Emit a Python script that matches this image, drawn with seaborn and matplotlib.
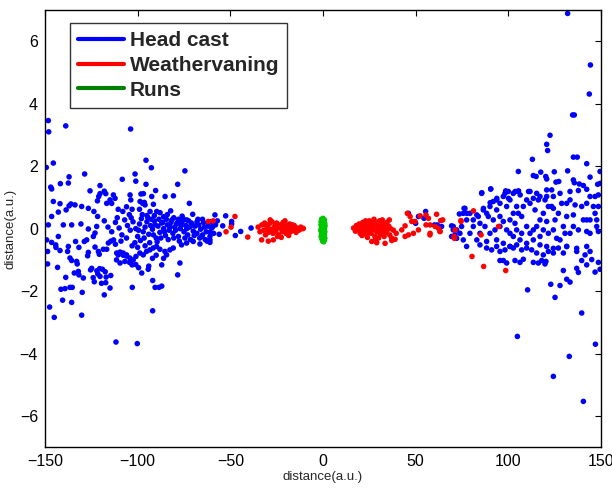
import matplotlib
matplotlib.use("Agg")
import matplotlib.pyplot as plt
from matplotlib.lines import Line2D
import pandas as pd
import seaborn as sns

# Lateral displacement of each behavioural event vs. its position
head_cast_pts = [
    # left wing, upper outliers
    (-148.2, 3.46), (-148.0, 3.10), (-138.8, 3.29), (-103.8, 3.19),
    (-145.5, 2.10), (-149.3, 1.96), (-95.5, 2.19), (-92.6, 1.95), (-74.5, 1.85),
    (-128.6, 1.75), (-137.0, 1.66), (-137.4, 1.46), (-141.7, 1.44), (-146.9, 1.33), (-146.4, 1.27),
    (-125.7, 1.21), (-120.3, 1.38), (-118.0, 1.20), (-120.3, 1.12), (-121.0, 1.03), (-121.7, 0.89), (-117.2, 1.12),
    (-108.3, 1.58), (-101.4, 1.75), (-101.0, 1.52), (-98.2, 1.11), (-96.9, 1.12), (-96.4, 0.84), (-95.5, 1.42),
    (-90.3, 1.22), (-92.4, 1.03), (-85.2, 1.03), (-80.7, 1.05), (-78.4, 1.42), (-72.1, 0.81), (-104.1, 1.08), (-103.7, 0.92),
    # left wing, upper band
    (-145.5, 0.87), (-141.9, 0.80), (-138.6, 0.60), (-137.0, 0.73), (-136.0, 0.79), (-133.8, 0.76), (-130.2, 0.71),
    (-126.6, 0.65), (-123.6, 0.55), (-121.6, 0.39), (-142.8, 0.53), (-146.4, 0.39), (-116.7, 0.81), (-114.0, 0.81),
    (-114.9, 0.92), (-112.2, 0.97), (-113.1, 1.08), (-110.5, 0.62), (-108.0, 0.55), (-106.0, 0.70), (-104.5, 0.45),
    (-103.0, 0.62), (-98.7, 0.87), (-97.3, 0.81), (-96.0, 0.76), (-91.5, 0.78), (-93.3, 0.55), (-89.7, 0.55),
    (-87.9, 0.51), (-82.2, 0.57), (-70.3, 0.46), (-58.3, 0.44), (-52.5, 0.41), (-99.0, 0.62), (-95.0, 0.42),
    (-91.0, 0.42), (-86.0, 0.38), (-84.0, 0.45), (-80.5, 0.35), (-78.0, 0.30), (-76.0, 0.40), (-73.5, 0.28),
    (-68.0, 0.22), (-65.0, 0.30), (-62.0, 0.18), (-49.3, 0.23), (-49.3, 0.15), (-54.1, 0.09), (-59.5, 0.07),
    # left wing, core around zero
    (-148.2, 0.12), (-140.1, 0.12), (-135.6, 0.12), (-130.6, 0.15), (-126.6, -0.01), (-122.1, 0.07), (-118.0, 0.25),
    (-116.0, 0.05), (-114.0, -0.10), (-112.0, 0.20), (-110.0, 0.02), (-108.5, -0.20), (-107.0, 0.28), (-105.5, 0.10),
    (-104.0, -0.05), (-102.5, 0.22), (-101.0, 0.00), (-100.0, -0.25), (-99.0, 0.15), (-98.0, 0.32), (-97.0, -0.10),
    (-96.0, 0.05), (-95.0, 0.22), (-94.0, -0.18), (-93.0, 0.10), (-92.0, -0.02), (-91.0, 0.25), (-90.0, -0.30),
    (-89.0, 0.08), (-88.0, -0.12), (-87.0, 0.18), (-86.0, 0.00), (-85.0, -0.22), (-84.0, 0.12), (-83.0, -0.05),
    (-82.0, 0.20), (-81.0, -0.15), (-80.0, 0.05), (-79.0, 0.15), (-78.0, -0.25), (-77.0, 0.00), (-76.0, 0.22),
    (-75.0, -0.10), (-74.0, 0.10), (-73.0, -0.20), (-72.0, 0.05), (-71.0, 0.18), (-70.0, -0.08), (-69.0, 0.08),
    (-68.0, -0.15), (-67.0, 0.12), (-66.0, -0.02), (-65.0, -0.20), (-64.0, 0.05), (-63.0, -0.10), (-62.0, 0.08),
    (-61.0, -0.25), (-60.0, 0.02), (-58.0, 0.12), (-56.0, -0.18), (-44.4, -0.09), (-47.3, -0.22), (-38.8, 0.02),
    (-61.0, -0.11), (-61.0, -0.36), (-61.0, -0.44), (-65.4, -0.25),
    (-111.0, 0.35), (-109.0, -0.40), (-106.0, -0.30), (-103.5, 0.35), (-101.5, -0.45), (-99.5, -0.05), (-98.5, -0.38),
    (-97.5, 0.45), (-96.5, -0.30), (-94.5, 0.35), (-93.5, -0.45), (-92.5, 0.30), (-91.5, -0.20), (-90.5, 0.12),
    (-89.5, -0.42), (-88.5, 0.30), (-87.5, -0.30), (-86.5, 0.20), (-85.5, -0.10), (-84.5, 0.30), (-83.5, -0.35),
    (-82.5, 0.05), (-81.5, 0.28), (-80.5, -0.30), (-79.5, -0.05), (-78.5, 0.20), (-77.5, -0.40), (-76.5, 0.10),
    (-75.5, 0.32), (-74.5, -0.30), (-73.5, 0.00), (-72.5, 0.25), (-71.5, -0.35), (-70.5, 0.12), (-69.5, -0.22),
    (-67.5, 0.30), (-66.5, -0.30), (-64.5, 0.20), (-63.5, -0.35), (-60.5, 0.22), (-59.0, -0.15), (-57.0, 0.25),
    # left wing, lower band
    (-142.8, -0.25), (-149.1, -0.36), (-146.4, -0.44), (-144.2, -0.52), (-144.1, -0.60), (-141.9, -0.70),
    (-148.6, -0.73), (-137.4, -0.57), (-137.8, -0.73), (-133.5, -0.41), (-131.7, -0.60), (-128.8, -0.41),
    (-127.5, -0.36), (-126.6, -0.76), (-127.0, -0.87), (-123.9, -0.25), (-123.0, -0.14), (-123.0, -0.59),
    (-121.2, -0.73), (-120.7, -0.82), (-118.5, -0.66), (-116.7, -0.66), (-115.8, -0.46), (-114.5, -0.40),
    (-113.0, -0.36), (-112.0, -0.50), (-111.3, -0.78), (-109.5, -0.75), (-107.8, -0.85), (-106.0, -0.88),
    (-106.9, -1.05), (-104.4, -1.08), (-103.0, -1.16),
    (-136.5, -0.94), (-135.6, -1.02), (-132.9, -1.05), (-132.6, -1.13), (-148.6, -1.13), (-143.2, -1.24),
    (-132.0, -1.37), (-134.2, -1.42), (-131.7, -1.48), (-124.8, -1.27), (-125.4, -1.32), (-122.0, -1.35),
    (-120.5, -1.28), (-119.0, -1.30), (-121.5, -1.45), (-117.5, -1.38), (-120.3, -1.53), (-117.0, -1.55),
    (-114.5, -1.50), (-119.5, -1.75), (-117.2, -1.73), (-123.4, -1.70), (-124.0, -1.57), (-138.8, -1.56),
    (-129.3, -1.58), (-141.4, -1.94), (-139.2, -1.92), (-136.5, -1.88), (-135.3, -1.88), (-129.9, -2.04),
    (-114.9, -1.90), (-118.0, -2.12), (-102.9, -1.88), (-147.5, -2.51), (-140.5, -2.29), (-135.6, -2.36),
    (-145.0, -2.84), (-130.2, -2.77), (-111.7, -3.63), (-100.2, -3.68), (-91.9, -2.63), (-90.6, -1.88),
    (-88.5, -1.88), (-87.0, -1.84), (-91.9, -1.66), (-78.4, -1.48), (-77.2, -1.10), (-87.0, -1.16),
    (-97.8, -1.42), (-94.0, -1.20), (-94.3, -1.30), (-99.5, -1.25), (-101.0, -1.15),
    (-109.5, -1.10), (-111.4, -1.00), (-110.5, -0.84), (-107.8, -0.78), (-106.0, -0.84), (-104.2, -0.94),
    (-102.4, -1.00), (-100.9, -0.89), (-98.8, -0.78), (-97.0, -0.84), (-95.2, -0.73), (-93.4, -0.68),
    (-91.6, -0.62), (-89.8, -0.57), (-88.0, -0.66), (-85.3, -0.73), (-84.4, -0.84), (-82.6, -0.68),
    (-80.8, -0.62), (-76.3, -0.52), (-73.6, -0.46), (-70.0, -0.41), (-66.4, -0.49), (-62.5, -0.40),
    (-103.0, -0.55), (-100.0, -0.60), (-96.0, -0.55), (-92.0, -0.95), (-90.0, -0.85), (-86.0, -0.95),
    # right wing, upper outliers
    (132.0, 6.89), (144.3, 5.24), (143.7, 4.31), (134.7, 3.64), (135.6, 3.64), (122.5, 2.99), (120.7, 2.70),
    (121.2, 2.50), (113.0, 2.22), (135.1, 2.29), (137.2, 2.29), (142.3, 2.08), (105.4, 1.83), (149.5, 1.83),
    (132.0, 1.85), (124.8, 1.82), (113.5, 1.70), (115.0, 1.67), (120.2, 1.67), (120.7, 1.59), (117.5, 1.81),
    (125.7, 1.49), (127.2, 1.51), (144.1, 1.65), (148.2, 1.42), (149.6, 1.45), (135.1, 1.56), (135.6, 1.47),
    (138.3, 1.43), (140.5, 1.38), (142.3, 1.26), (137.8, 1.22), (133.3, 1.19), (127.9, 1.13), (123.4, 1.24),
    (120.7, 1.24), (115.3, 1.13), (111.7, 1.19),
    (85.7, 1.15), (90.5, 1.27), (98.6, 1.21), (103.7, 1.19), (105.5, 1.21), (110.9, 1.19), (93.8, 0.97),
    (100.1, 0.97), (106.4, 1.08), (90.2, 0.83), (76.1, 0.65), (77.6, 0.49), (86.6, 0.65), (83.0, 0.44),
    # right wing, core
    (113.5, 0.97), (116.2, 0.92), (117.1, 1.03), (120.7, 1.03), (124.3, 1.03), (119.8, 0.92), (123.4, 0.71),
    (124.3, 0.65), (131.5, 0.81), (136.0, 0.76), (144.1, 1.03), (146.8, 1.03), (148.6, 1.08), (145.9, 0.71),
    (148.6, 0.71), (142.3, 0.28), (144.1, 0.28), (147.7, 0.28), (146.8, 0.49), (135.1, 0.44), (135.1, 0.07),
    (137.8, -0.04), (142.3, -0.09), (147.7, 0.07), (148.6, -0.09), (131.5, 0.39), (129.7, 0.07), (130.6, -0.15),
    (125.2, 0.28), (124.3, -0.04), (126.1, -0.31), (120.7, 0.23), (117.1, 0.28), (115.3, 0.07), (113.5, -0.04),
    (111.7, -0.15), (109.9, 0.07), (107.2, 0.39), (107.2, -0.15), (104.5, 0.71), (102.7, 0.49), (100.9, 0.92),
    (99.1, 0.71), (98.2, 1.13), (95.5, 0.81), (93.7, 0.92), (91.9, 0.87), (90.1, 0.71), (88.3, 0.49),
    (85.6, 1.13), (90.5, 1.27), (86.5, 0.60), (83.8, 0.39), (81.1, 0.07), (79.3, -0.15), (77.5, 0.28),
    (75.7, 0.49), (74.8, 0.07), (73.9, -0.15), (72.1, -0.04), (70.3, 0.07), (69.4, -0.25), (76.6, 0.65),
    (79.3, 0.49), (81.1, 0.28), (84.7, 0.17), (87.4, 0.07), (90.1, -0.15), (92.8, -0.04), (95.5, 0.07),
    (99.1, -0.04), (100.9, -0.15), (102.7, -0.25), (104.5, -0.04), (106.3, -0.36), (109.9, -0.47), (113.5, -0.36),
    (117.1, -0.52), (120.7, -0.57), (124.3, -0.63), (131.5, -0.57), (136.9, -0.63), (142.3, -0.57),
    (95.5, 0.39), (97.3, 0.23), (100.9, 0.28), (103.6, 0.17), (105.4, 0.49), (108.1, 0.71), (111.7, 0.81),
    (91.9, 0.28), (89.2, 0.39), (93.7, 0.60), (97.3, 1.03), (102.7, 1.13), (105.4, 1.19), (100.0, 1.19),
    (109.9, 0.92), (114.4, 0.60), (118.9, 0.49), (121.6, 0.71), (127.0, 0.49), (128.8, 0.81), (133.3, 0.92),
    (139.6, 0.71), (142.3, 0.81), (140.5, 0.28), (144.1, -0.15), (133.3, -0.15), (127.9, -0.36), (121.6, -0.15),
    (118.9, -0.04), (117.1, -0.25), (84.7, -0.15), (83.0, -0.36), (88.3, -0.41), (93.7, -0.36), (97.3, -0.47),
    (100.9, -0.57), (75.7, -0.36), (77.5, -0.57),
    # right wing, lower band and outliers
    (84.7, -0.52), (88.3, -0.62), (91.0, -0.68), (93.7, -0.57), (95.5, -0.73), (98.2, -0.68), (100.9, -0.57),
    (102.7, -0.62), (104.5, -0.52), (107.2, -0.68), (109.9, -0.62), (112.6, -0.68), (115.3, -0.78), (118.9, -0.84),
    (121.6, -0.73), (124.3, -0.78), (127.0, -0.62), (129.7, -0.78), (131.5, -0.57), (136.9, -0.73), (141.4, -0.84),
    (144.1, -0.73), (95.5, -1.02), (97.3, -1.02), (99.1, -1.10), (103.6, -1.02), (106.3, -1.08), (108.1, -0.98),
    (113.5, -1.08), (116.2, -1.10), (118.0, -1.02), (119.8, -1.13), (120.3, -1.05), (129.7, -1.34), (131.5, -1.62),
    (133.3, -1.71), (127.9, -1.82), (122.9, -1.78), (125.2, -2.20), (110.4, -1.96), (139.6, -2.70), (104.9, -3.45),
    (147.0, -3.70), (132.9, -4.09), (124.3, -4.73), (140.5, -5.53), (136.9, -1.27), (137.8, -1.40), (139.6, -1.02),
    (142.3, -1.16), (145.0, -0.99), (146.8, -1.39), (148.6, -1.08), (149.5, -1.30),
    # inner right, between the two behaviours
    (46.1, 0.49), (50.0, 0.17), (51.5, 0.39), (54.5, 0.33), (55.4, 0.55), (60.1, 0.12), (61.7, 0.12),
    (64.0, 0.07), (69.4, 0.09), (70.3, -0.04), (71.2, -0.20), (72.1, -0.31), (73.6, 0.47),
]

weathervaning_pts = [
    # left cluster
    (-35.0, 0.05), (-34.0, -0.10), (-33.0, 0.12), (-32.0, -0.05), (-31.5, 0.18), (-31.0, -0.20), (-30.0, 0.02),
    (-29.5, -0.12), (-29.0, 0.15), (-28.0, -0.02), (-27.5, 0.22), (-27.0, -0.15), (-26.0, 0.08), (-25.5, -0.08),
    (-25.0, 0.18), (-24.0, -0.20), (-23.5, 0.02), (-23.0, 0.12), (-22.0, -0.10), (-21.5, 0.20), (-21.0, 0.00),
    (-20.0, -0.15), (-19.5, 0.10), (-19.0, -0.05), (-18.0, 0.15), (-17.5, -0.10), (-17.0, 0.05), (-16.0, -0.02),
    (-15.5, 0.10), (-15.0, -0.08), (-14.0, 0.02), (-13.0, -0.05), (-12.0, 0.05), (-11.0, 0.00), (-10.6, 0.01),
    (-33.1, -0.36), (-29.5, -0.40), (-26.8, -0.36), (-24.5, -0.25), (-22.5, -0.28), (-20.5, 0.25),
    (-18.5, -0.22), (-28.5, 0.28), (-30.5, 0.10), (-26.5, 0.00), (-24.0, 0.05), (-22.0, 0.08), (-20.0, 0.02),
    (-18.0, -0.02), (-16.5, 0.12), (-14.5, -0.12), (-12.5, -0.02),
    (-47.5, 0.39), (-49.6, 0.05), (-52.3, -0.10), (-59.2, 0.25), (-61.9, 0.23), (-40.6, -0.27),
    # right cluster
    (16.5, 0.02), (17.5, -0.08), (18.0, 0.10), (19.0, -0.02), (19.5, 0.15), (20.0, -0.15), (20.5, 0.05),
    (21.0, -0.05), (21.5, 0.20), (22.0, -0.12), (22.5, 0.08), (23.0, 0.00), (23.5, -0.20), (24.0, 0.15),
    (24.5, -0.05), (25.0, 0.25), (25.5, 0.05), (26.0, -0.15), (26.5, 0.12), (27.0, -0.02), (27.5, 0.30),
    (28.0, -0.25), (28.5, 0.08), (29.0, 0.18), (29.5, -0.10), (30.0, 0.02), (30.5, 0.25), (31.0, -0.18),
    (31.5, 0.10), (32.0, -0.05), (32.5, 0.15), (33.0, -0.25), (33.5, 0.05), (34.0, -0.12), (34.5, 0.20),
    (35.0, -0.02), (35.5, 0.08), (36.0, -0.20), (36.5, 0.00), (37.0, -0.30), (35.8, 0.28), (26.3, -0.41),
    (29.0, -0.45), (33.5, -0.47), (37.1, -0.38), (38.9, -0.34), (22.0, 0.18), (24.0, -0.28), (27.0, 0.12),
    (29.0, -0.10), (31.0, 0.05), (23.0, 0.25), (25.0, -0.10), (28.0, 0.22), (30.0, -0.30), (32.0, 0.28),
    (34.0, 0.12), (19.0, 0.08), (21.0, -0.22), (26.0, 0.20), (28.5, -0.35), (33.0, -0.15), (38.0, -0.05),
    (39.5, -0.15),
    (42.5, -0.04), (44.3, 0.09), (45.5, 0.49), (47.0, 0.39), (47.9, 0.23), (49.7, 0.23), (46.1, -0.20),
    (48.8, -0.15), (51.5, -0.04), (52.4, 0.41), (55.6, 0.44), (56.9, 0.33), (55.6, 0.12), (57.8, 0.12),
    (57.8, -0.15), (60.5, 0.07), (62.3, 0.01), (61.3, 0.46), (63.5, 0.26), (63.1, -0.09), (57.7, -0.20),
    (44.3, -0.25), (64.6, 0.28), (74.4, 0.26), (71.3, -0.04), (63.2, -0.09), (70.9, -0.31), (74.5, 0.23),
    (94.7, 0.07), (85.3, -0.20), (70.8, -0.25), (81.2, 0.57), (80.4, -0.89), (86.7, -1.21), (98.6, -1.34),
]

runs_pts = [
    (-0.8, 0.30), (0.0, 0.33), (0.8, 0.28), (-1.0, 0.22), (-0.3, 0.25), (0.5, 0.22), (1.0, 0.16),
    (-1.1, 0.12), (-0.4, 0.14), (0.3, 0.10), (1.1, 0.08), (-0.9, 0.02), (-0.1, 0.04), (0.7, 0.00),
    (-1.2, -0.06), (-0.5, -0.04), (0.2, -0.08), (1.0, -0.10), (-0.8, -0.15), (0.0, -0.16), (0.8, -0.20),
    (-1.0, -0.25), (-0.3, -0.24), (0.5, -0.28), (1.0, -0.30), (-0.6, -0.33), (0.2, -0.35), (0.8, -0.36),
    (-0.2, -0.40), (0.4, -0.42), (-0.6, 0.05), (0.6, -0.12), (-0.4, -0.10), (0.3, 0.18),
]

labels = ["Head cast", "Weathervaning", "Runs"]
point_colors = {"Head cast": "#0000ff", "Weathervaning": "#ff0000", "Runs": "#00c800"}
legend_colors = {"Head cast": "#0000ff", "Weathervaning": "#ff0000", "Runs": "#008000"}

frames = []
for name, pts in zip(labels, [head_cast_pts, weathervaning_pts, runs_pts]):
    f = pd.DataFrame(pts, columns=["x", "y"])
    f["kind"] = name
    frames.append(f)
df = pd.concat(frames, ignore_index=True)

sns.set_style("white")
plt.rcParams["font.family"] = ["Liberation Sans", "DejaVu Sans"]

fig = plt.figure(figsize=(6.12, 4.88), dpi=100)
ax = fig.add_axes([0.0735, 0.0834, 0.9085, 0.8961])

sns.scatterplot(data=df, x="x", y="y", hue="kind", hue_order=labels,
                palette=point_colors, s=16, linewidth=0, legend=False, ax=ax)

ax.set_xlim(-150, 150)
ax.set_ylim(-7, 7)
ax.set_xticks([-150, -100, -50, 0, 50, 100, 150])
ax.set_yticks([-6, -4, -2, 0, 2, 4, 6])
ax.tick_params(direction="in", length=4, width=0.8, top=True, right=True,
               labelsize=11.5, colors="black", pad=5)
for sp in ax.spines.values():
    sp.set_color("black")
    sp.set_linewidth(1.0)
ax.set_xlabel("distance(a.u.)", fontsize=9.5, labelpad=1)
ax.set_ylabel("distance(a.u.)", fontsize=9.5, labelpad=2)

handles = [Line2D([0], [0], color=legend_colors[n], lw=3) for n in labels]
leg = ax.legend(handles, labels, loc="upper left", bbox_to_anchor=(0.045, 0.97),
                borderaxespad=0, fancybox=False, frameon=True, handlelength=2.2,
                handletextpad=0.3, labelspacing=0.28, borderpad=0.38,
                prop={"weight": "bold", "size": 15})
leg.get_frame().set_edgecolor("black")
leg.get_frame().set_linewidth(1.0)

fig.savefig("out.png", dpi=100)
